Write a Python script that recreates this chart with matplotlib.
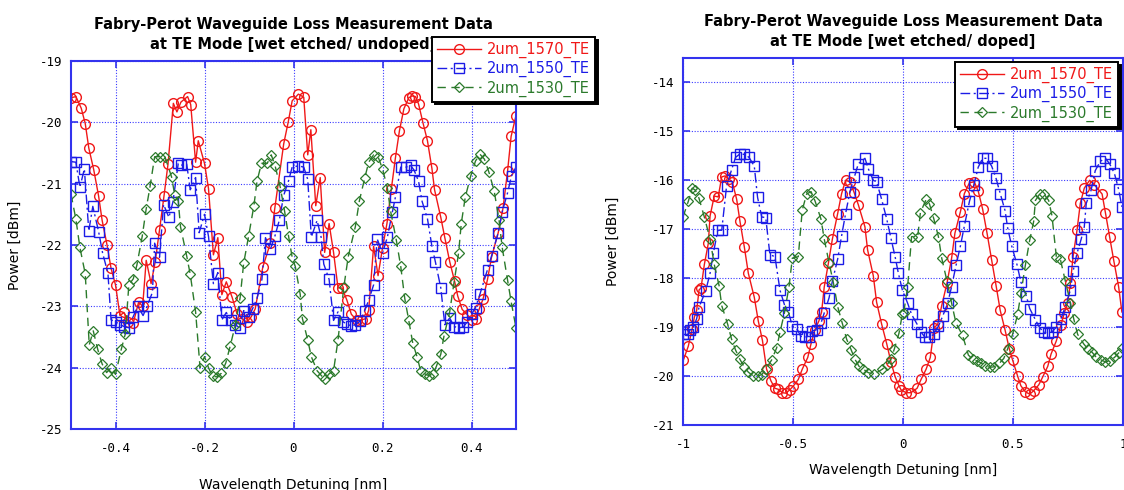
import matplotlib
matplotlib.use("Agg")
import matplotlib.pyplot as plt

plt.rcParams["axes.unicode_minus"] = False
plt.rcParams["font.family"] = ["DejaVu Sans"]

# ---------------- measured data: (detuning [nm], power [dBm]) ----------------
undoped_1570 = [
    (-0.500, -19.60), (-0.489, -19.58), (-0.477, -19.77), (-0.468, -20.02), (-0.460, -20.42),
    (-0.449, -20.77), (-0.438, -21.20), (-0.430, -21.60), (-0.419, -22.00), (-0.410, -22.38),
    (-0.400, -22.65), (-0.390, -23.15), (-0.381, -23.10), (-0.371, -23.25), (-0.360, -23.27),
    (-0.348, -22.93), (-0.339, -23.00), (-0.331, -22.25), (-0.320, -22.63), (-0.311, -22.28),
    (-0.301, -21.75), (-0.291, -21.20), (-0.282, -20.68), (-0.270, -19.69), (-0.262, -19.83),
    (-0.253, -19.67), (-0.238, -19.58), (-0.231, -19.71), (-0.220, -20.65), (-0.214, -20.30),
    (-0.200, -20.67), (-0.191, -21.08), (-0.180, -22.16), (-0.170, -21.88), (-0.161, -22.81),
    (-0.151, -22.60), (-0.138, -22.85), (-0.127, -23.12), (-0.116, -23.20), (-0.105, -23.26),
    (-0.095, -23.17), (-0.086, -23.04), (-0.069, -22.36), (-0.052, -21.97), (-0.042, -21.40),
    (-0.022, -20.35), (-0.012, -20.00), (-0.003, -19.65), (0.011, -19.54), (0.023, -19.59),
    (0.032, -20.53), (0.039, -20.12), (0.050, -21.36), (0.060, -20.90), (0.070, -22.12),
    (0.080, -21.65), (0.090, -22.12), (0.100, -22.70), (0.109, -22.70), (0.120, -22.90),
    (0.130, -23.13), (0.143, -23.23), (0.153, -23.22), (0.163, -23.20), (0.169, -23.06),
    (0.180, -22.02), (0.190, -22.50), (0.200, -22.05), (0.210, -21.65), (0.220, -21.08),
    (0.229, -20.58), (0.238, -20.14), (0.248, -19.78), (0.259, -19.60), (0.266, -19.57),
    (0.274, -19.58), (0.281, -19.70), (0.291, -20.01), (0.301, -20.30), (0.311, -20.75),
    (0.317, -21.10), (0.331, -21.55), (0.340, -21.88), (0.351, -22.27), (0.362, -22.59),
    (0.369, -22.83), (0.379, -23.05), (0.391, -23.14), (0.400, -23.22), (0.409, -23.20),
    (0.417, -23.05), (0.426, -22.88), (0.436, -22.56), (0.445, -22.20), (0.460, -21.80),
    (0.471, -21.39), (0.481, -20.80), (0.489, -20.23), (0.500, -19.89),
]

undoped_1550 = [
    (-0.500, -20.64), (-0.489, -20.65), (-0.480, -21.06), (-0.470, -20.76), (-0.460, -21.77),
    (-0.451, -21.37), (-0.438, -21.78), (-0.429, -22.13), (-0.417, -22.46), (-0.410, -23.22),
    (-0.398, -23.26), (-0.390, -23.30), (-0.380, -23.33), (-0.370, -23.35), (-0.361, -23.18),
    (-0.350, -23.00), (-0.338, -23.15), (-0.329, -23.00), (-0.317, -22.77), (-0.312, -21.97),
    (-0.301, -22.20), (-0.292, -21.34), (-0.280, -21.55), (-0.271, -21.30), (-0.259, -20.67),
    (-0.253, -20.70), (-0.240, -20.68), (-0.232, -21.10), (-0.220, -20.90), (-0.212, -21.80),
    (-0.200, -21.50), (-0.191, -21.86), (-0.180, -22.63), (-0.170, -22.45), (-0.161, -23.22),
    (-0.151, -23.10), (-0.140, -23.23), (-0.131, -23.30), (-0.121, -23.35), (-0.112, -23.07),
    (-0.101, -23.18), (-0.092, -23.04), (-0.082, -22.87), (-0.071, -22.56), (-0.063, -21.88),
    (-0.052, -22.07), (-0.042, -21.86), (-0.032, -21.60), (-0.022, -21.19), (-0.011, -20.95),
    (-0.003, -20.73), (0.011, -20.71), (0.023, -20.73), (0.032, -20.93), (0.040, -21.87),
    (0.053, -21.60), (0.062, -21.87), (0.068, -22.31), (0.080, -22.56), (0.090, -23.23),
    (0.100, -23.09), (0.111, -23.25), (0.120, -23.29), (0.130, -23.32), (0.139, -23.30),
    (0.150, -23.24), (0.160, -23.07), (0.169, -22.90), (0.180, -22.65), (0.188, -21.90),
    (0.200, -22.13), (0.211, -21.87), (0.222, -21.47), (0.229, -21.22), (0.241, -20.73),
    (0.253, -20.73), (0.263, -20.70), (0.271, -20.78), (0.281, -20.96), (0.289, -21.29),
    (0.301, -21.57), (0.311, -22.02), (0.319, -22.28), (0.331, -22.70), (0.340, -23.30),
    (0.351, -23.19), (0.361, -23.33), (0.371, -23.35), (0.381, -23.34), (0.391, -23.25),
    (0.400, -23.13), (0.409, -23.02), (0.419, -22.80), (0.436, -22.40), (0.445, -22.18),
    (0.460, -21.80), (0.469, -21.46), (0.481, -21.15), (0.490, -20.87), (0.500, -20.73),
]

undoped_1530 = [
    (-0.500, -21.17), (-0.489, -21.58), (-0.480, -22.04), (-0.468, -22.47), (-0.459, -23.63),
    (-0.450, -23.40), (-0.440, -23.70), (-0.430, -23.94), (-0.420, -24.08), (-0.410, -24.00),
    (-0.400, -24.11), (-0.387, -23.70), (-0.378, -23.45), (-0.370, -22.65), (-0.360, -22.55),
    (-0.352, -22.33), (-0.340, -21.86), (-0.331, -21.41), (-0.322, -21.03), (-0.312, -20.56),
    (-0.301, -20.56), (-0.289, -20.56), (-0.274, -20.89), (-0.267, -21.18), (-0.259, -21.28),
    (-0.254, -21.70), (-0.240, -22.18), (-0.232, -22.48), (-0.220, -23.09), (-0.210, -24.00),
    (-0.200, -23.82), (-0.191, -24.00), (-0.182, -24.14), (-0.172, -24.15), (-0.162, -24.09),
    (-0.152, -23.92), (-0.142, -23.64), (-0.131, -23.31), (-0.120, -22.86), (-0.112, -22.30),
    (-0.101, -21.86), (-0.089, -21.36), (-0.082, -20.96), (-0.072, -20.67), (-0.059, -20.67),
    (-0.050, -20.53), (-0.041, -20.72), (-0.030, -21.05), (-0.020, -21.45), (-0.011, -21.86),
    (-0.003, -22.20), (0.004, -22.35), (0.015, -22.80), (0.020, -23.20), (0.032, -23.55),
    (0.040, -23.82), (0.053, -24.05), (0.064, -24.14), (0.071, -24.18), (0.080, -24.10),
    (0.090, -24.05), (0.100, -23.55), (0.113, -22.69), (0.123, -22.19), (0.139, -21.70),
    (0.148, -21.28), (0.160, -20.91), (0.169, -20.65), (0.180, -20.53), (0.190, -20.56),
    (0.200, -20.76), (0.211, -21.07), (0.218, -21.44), (0.231, -21.92), (0.241, -22.35),
    (0.250, -22.87), (0.259, -23.23), (0.268, -23.60), (0.278, -23.83), (0.286, -24.06),
    (0.295, -24.10), (0.304, -24.13), (0.314, -24.10), (0.321, -23.98), (0.331, -23.78),
    (0.338, -23.49), (0.351, -23.09), (0.361, -22.60), (0.371, -22.13), (0.377, -21.65),
    (0.386, -21.22), (0.398, -20.88), (0.409, -20.63), (0.419, -20.52), (0.429, -20.60),
    (0.439, -20.81), (0.451, -21.12), (0.462, -21.60), (0.469, -22.04), (0.481, -22.57),
    (0.489, -22.92), (0.500, -23.35),
]

doped_1570 = [
    (-0.998, -19.67), (-0.976, -19.39), (-0.958, -19.03), (-0.948, -18.79), (-0.938, -18.66),
    (-0.927, -18.24), (-0.918, -18.20), (-0.903, -17.72), (-0.885, -17.29), (-0.877, -16.73),
    (-0.858, -16.32), (-0.840, -16.34), (-0.824, -15.93), (-0.809, -15.91), (-0.790, -15.98),
    (-0.776, -16.03), (-0.756, -16.39), (-0.741, -16.84), (-0.721, -17.37), (-0.703, -17.90),
    (-0.676, -18.39), (-0.658, -18.87), (-0.639, -19.27), (-0.620, -19.86), (-0.600, -20.10),
    (-0.582, -20.25), (-0.567, -20.27), (-0.548, -20.34), (-0.533, -20.35), (-0.514, -20.28),
    (-0.498, -20.20), (-0.476, -20.07), (-0.458, -19.86), (-0.433, -19.62), (-0.418, -19.34),
    (-0.400, -19.05), (-0.382, -18.87), (-0.370, -18.69), (-0.358, -18.18), (-0.339, -17.69),
    (-0.321, -17.20), (-0.297, -16.68), (-0.279, -16.27), (-0.261, -16.00), (-0.241, -16.03),
    (-0.222, -16.25), (-0.203, -16.50), (-0.173, -16.95), (-0.161, -17.42), (-0.135, -17.95),
    (-0.120, -18.49), (-0.097, -18.94), (-0.074, -19.34), (-0.055, -19.71), (-0.036, -20.01),
    (-0.018, -20.20), (-0.009, -20.28), (0.014, -20.34), (0.036, -20.34), (0.064, -20.25),
    (0.082, -20.07), (0.105, -19.86), (0.124, -19.62), (0.142, -19.01), (0.158, -18.94),
    (0.176, -18.56), (0.200, -18.10), (0.221, -17.59), (0.236, -17.08), (0.261, -16.64),
    (0.279, -16.27), (0.302, -16.05), (0.324, -16.03), (0.342, -16.22), (0.362, -16.59),
    (0.382, -17.08), (0.403, -17.63), (0.423, -18.15), (0.442, -18.66), (0.464, -19.06),
    (0.483, -19.44), (0.498, -19.67), (0.521, -20.00), (0.536, -20.20), (0.556, -20.32),
    (0.576, -20.37), (0.594, -20.30), (0.617, -20.18), (0.636, -20.01), (0.658, -19.80),
    (0.673, -19.55), (0.697, -19.28), (0.718, -18.96), (0.733, -18.71), (0.748, -18.51),
    (0.761, -18.10), (0.773, -17.56), (0.791, -17.02), (0.806, -16.47), (0.824, -16.16),
    (0.848, -16.00), (0.870, -16.09), (0.905, -16.28), (0.920, -16.66), (0.939, -17.15),
    (0.958, -17.64), (0.980, -18.17), (0.995, -18.69),
]

doped_1550 = [
    (-0.998, -19.15), (-0.979, -19.15), (-0.968, -19.06), (-0.953, -19.00), (-0.938, -18.83),
    (-0.927, -18.59), (-0.897, -18.26), (-0.877, -17.90), (-0.862, -17.49), (-0.842, -17.02),
    (-0.824, -17.02), (-0.802, -16.12), (-0.779, -15.78), (-0.761, -15.53), (-0.741, -15.46),
    (-0.721, -15.47), (-0.700, -15.53), (-0.676, -15.71), (-0.661, -16.35), (-0.642, -16.75),
    (-0.624, -16.76), (-0.605, -17.52), (-0.582, -17.56), (-0.559, -18.25), (-0.539, -18.54),
    (-0.521, -18.69), (-0.503, -18.98), (-0.483, -19.03), (-0.464, -19.19), (-0.445, -19.20),
    (-0.427, -19.20), (-0.412, -19.08), (-0.392, -19.05), (-0.373, -18.92), (-0.358, -18.71),
    (-0.336, -18.40), (-0.321, -18.06), (-0.297, -17.61), (-0.279, -17.13), (-0.261, -16.68),
    (-0.241, -16.23), (-0.221, -15.93), (-0.203, -15.66), (-0.173, -15.55), (-0.158, -15.76),
    (-0.135, -16.00), (-0.120, -16.03), (-0.097, -16.39), (-0.074, -16.79), (-0.055, -17.18),
    (-0.036, -17.56), (-0.021, -17.90), (-0.003, -18.24), (0.021, -18.51), (0.039, -18.74),
    (0.064, -18.94), (0.082, -19.10), (0.100, -19.21), (0.120, -19.20), (0.139, -19.15),
    (0.161, -18.98), (0.180, -18.78), (0.203, -18.51), (0.221, -18.17), (0.241, -17.74),
    (0.261, -17.34), (0.279, -16.93), (0.302, -16.43), (0.322, -16.10), (0.342, -15.73),
    (0.362, -15.55), (0.382, -15.55), (0.403, -15.71), (0.423, -15.96), (0.442, -16.27),
    (0.464, -16.62), (0.476, -16.98), (0.494, -17.34), (0.518, -17.72), (0.536, -18.08),
    (0.561, -18.37), (0.576, -18.62), (0.602, -18.85), (0.621, -19.01), (0.639, -19.10),
    (0.658, -19.12), (0.677, -19.10), (0.697, -19.00), (0.718, -18.83), (0.738, -18.58),
    (0.761, -18.24), (0.773, -17.86), (0.791, -17.49), (0.810, -17.20), (0.824, -16.95),
    (0.833, -16.47), (0.855, -16.20), (0.874, -15.80), (0.897, -15.61), (0.920, -15.55),
    (0.939, -15.66), (0.961, -15.86), (0.980, -16.18), (0.995, -16.54),
]

doped_1530 = [
    (-1.000, -16.75), (-0.976, -16.43), (-0.958, -16.16), (-0.944, -16.20), (-0.927, -16.37),
    (-0.903, -16.75), (-0.877, -17.20), (-0.858, -17.72), (-0.836, -18.15), (-0.824, -18.56),
    (-0.797, -18.94), (-0.779, -19.25), (-0.761, -19.47), (-0.741, -19.66), (-0.721, -19.82),
    (-0.703, -19.92), (-0.680, -20.00), (-0.661, -20.00), (-0.642, -19.97), (-0.624, -19.86),
    (-0.597, -19.67), (-0.574, -19.42), (-0.559, -19.10), (-0.539, -18.71), (-0.518, -18.17),
    (-0.503, -17.59), (-0.476, -17.56), (-0.458, -16.61), (-0.438, -16.28), (-0.418, -16.23),
    (-0.400, -16.42), (-0.373, -16.79), (-0.358, -17.20), (-0.336, -17.69), (-0.317, -18.08),
    (-0.297, -18.58), (-0.276, -18.92), (-0.256, -19.25), (-0.236, -19.46), (-0.218, -19.66),
    (-0.200, -19.80), (-0.180, -19.86), (-0.158, -19.93), (-0.130, -19.96), (-0.094, -19.86),
    (-0.074, -19.78), (-0.055, -19.66), (-0.039, -19.44), (-0.018, -19.12), (-0.003, -18.73),
    (0.003, -18.71), (0.021, -18.18), (0.039, -17.15), (0.067, -17.15), (0.079, -16.66),
    (0.105, -16.39), (0.120, -16.48), (0.139, -16.77), (0.161, -17.15), (0.176, -17.59),
    (0.200, -18.06), (0.221, -18.51), (0.241, -18.92), (0.271, -19.17), (0.297, -19.57),
    (0.317, -19.66), (0.336, -19.69), (0.355, -19.73), (0.373, -19.80), (0.397, -19.82),
    (0.415, -19.81), (0.438, -19.74), (0.458, -19.64), (0.476, -19.44), (0.498, -19.15),
    (0.521, -18.74), (0.536, -18.31), (0.556, -17.74), (0.576, -17.22), (0.594, -16.84),
    (0.602, -16.41), (0.621, -16.28), (0.639, -16.27), (0.662, -16.41), (0.677, -16.72),
    (0.697, -17.56), (0.715, -17.61), (0.738, -18.06), (0.761, -18.51), (0.776, -18.83),
    (0.794, -19.15), (0.821, -19.34), (0.839, -19.44), (0.859, -19.51), (0.879, -19.62),
    (0.900, -19.67), (0.920, -19.71), (0.939, -19.69), (0.961, -19.62), (0.980, -19.53),
    (0.995, -19.42),
]

series_labels = ["2um_1570_TE", "2um_1550_TE", "2um_1530_TE"]
titles = ["Fabry-Perot Waveguide Loss Measurement Data\nat TE Mode [wet etched/ undoped]",
          "Fabry-Perot Waveguide Loss Measurement Data\nat TE Mode [wet etched/ doped]"]
x_label = "Wavelength Detuning [nm]"
y_label = "Power [dBm]"

left_xticks = [-0.4, -0.2, 0.0, 0.2, 0.4]
left_xticklabels = ["-0.4", "-0.2", "0", "0.2", "0.4"]
left_yticks = [-25, -24, -23, -22, -21, -20, -19]
right_xticks = [-1.0, -0.5, 0.0, 0.5, 1.0]
right_xticklabels = ["-1", "-0.5", "0", "0.5", "1"]
right_yticks = [-21, -20, -19, -18, -17, -16, -15, -14]

# ---------------- styling ----------------
RED = "#f01818"
BLUE = "#1c1ce6"
GREEN = "#2b7a2b"
FRAME = "#3333ee"
GRID = "#3a3aff"

styles = [
    dict(color=RED, ls="-", lw=1.0, marker="o", ms=7, mfc="none", mec=RED, mew=1.0),
    dict(color=BLUE, ls=(0, (7, 2.5, 1.5, 2.5)), lw=1.0, marker="s", ms=7, mfc="none", mec=BLUE, mew=1.0),
    dict(color=GREEN, ls=(0, (6, 4)), lw=1.0, marker="D", ms=5.0, mfc="none", mec=GREEN, mew=0.9),
]

W, H = 1124, 490
fig = plt.figure(figsize=(W / 100, H / 100), dpi=100)
ax1 = fig.add_axes([71 / W, 1 - 429 / H, 445 / W, 368 / H])
ax2 = fig.add_axes([683 / W, 1 - 425 / H, 440 / W, 367 / H])

panels = [
    (ax1, titles[0], [undoped_1570, undoped_1550, undoped_1530], (-0.5, 0.5), (-25, -19),
     left_xticks, left_xticklabels, left_yticks, (432 / W, 1 - 37 / H), -0.133, -0.110),
    (ax2, titles[1], [doped_1570, doped_1550, doped_1530], (-1.0, 1.0), (-21, -13.5),
     right_xticks, right_xticklabels, right_yticks, (955 / W, 1 - 62 / H), -0.104, -0.143),
]

for ax, title, data, xlim, ylim, xt, xtl, yt, leg_anchor, xlab_y, ylab_x in panels:
    handles = []
    for pts, st, lab in zip(data, styles, series_labels):
        xs = [p[0] for p in pts]
        ys = [p[1] for p in pts]
        h, = ax.plot(xs, ys, label=lab, zorder=2, **st)
        handles.append(h)

    ax.set_xlim(*xlim)
    ax.set_ylim(*ylim)
    ax.set_xticks(xt)
    ax.set_xticklabels(xtl)
    ax.set_yticks(yt)
    ax.set_yticklabels([str(v) for v in yt])

    ax.grid(True, color=GRID, ls=(0, (1, 1.5)), lw=0.8, zorder=0)
    ax.set_axisbelow(True)
    for sp in ax.spines.values():
        sp.set_color(FRAME)
        sp.set_linewidth(1.5)
    ax.tick_params(direction="in", top=True, right=True, length=5, width=1.2,
                   color=FRAME, labelsize=9)
    ax.tick_params(axis="x", pad=9)
    ax.tick_params(axis="y", pad=6)
    for lbl in ax.get_xticklabels() + ax.get_yticklabels():
        lbl.set_family("DejaVu Sans Mono")

    ax.set_title(title, fontsize=10.5, fontweight="bold", pad=9, linespacing=1.4)
    ax.set_xlabel(x_label, fontsize=10)
    ax.set_ylabel(y_label, fontsize=10)
    ax.xaxis.set_label_coords(0.5, xlab_y)
    ax.yaxis.set_label_coords(ylab_x, 0.5)

    leg = ax.legend(handles=handles, loc="upper left", bbox_to_anchor=leg_anchor,
                    bbox_transform=fig.transFigure, borderaxespad=0,
                    frameon=True, fancybox=False, framealpha=1,
                    edgecolor="black", facecolor="white",
                    shadow={"color": "black", "alpha": 1.0},
                    fontsize=10.5, handlelength=3.0, handletextpad=0.4,
                    labelspacing=0.2, borderpad=0.35, labelcolor="linecolor")
    leg.get_frame().set_linewidth(1.4)
    leg.set_zorder(10)

fig.savefig("out.png", dpi=100)
